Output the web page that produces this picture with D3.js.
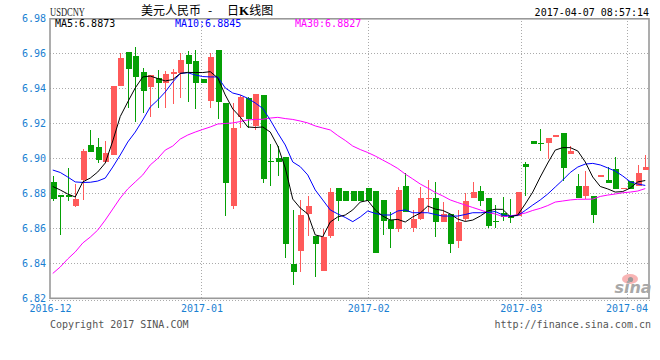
<!DOCTYPE html>
<html>
<head>
<meta charset="utf-8">
<script src="https://cdn.jsdelivr.net/npm/d3@7/dist/d3.min.js"></script>
<style>
  body { margin: 0; background: #fff; }
  text { font-family: "DejaVu Sans Mono", "Liberation Mono", monospace; font-size: 10px; }
</style>
</head>
<body>
<div id="chart"></div>
<script>
// daily candles, 2016-12 .. 2017-04-07
const opens = [6.8865, 6.8790, 6.8790, 6.8729, 6.8876, 6.9076, 6.9066, 6.8981, 6.9019, 6.9415,
  6.9606, 6.9585, 6.9491, 6.9409, 6.9461, 6.9432, 6.9480, 6.9489, 6.9590, 6.9556,
  6.9451, 6.9327, 6.9619, 6.9318, 6.8729, 6.9238, 6.9343, 6.9185, 6.9362, 6.8986,
  6.9000, 6.9009, 6.8396, 6.8470, 6.8682, 6.8556, 6.8356, 6.8558, 6.8829, 6.8813,
  6.8813, 6.8813, 6.8829, 6.8813, 6.8762, 6.8647, 6.8596, 6.8843, 6.8603, 6.8653,
  6.8770, 6.8775, 6.8638, 6.8682, 6.8529, 6.8653, 6.8775, 6.8813, 6.8775, 6.8643,
  6.8686, 6.8670, 6.8670, 6.8967, 6.9099, 6.9089, 6.9089, 6.9123, 6.9146, 6.9025,
  6.8842, 6.8785, 6.8785, 6.8896, 6.8876, 6.8937, 6.8827, 6.8870, 6.8842, 6.8933];
const highs = [6.8899, 6.8790, 6.8945, 6.8853, 6.9053, 6.9162, 6.9116, 6.9099, 6.9413, 6.9602,
  6.9606, 6.9638, 6.9516, 6.9476, 6.9505, 6.9501, 6.9510, 6.9600, 6.9615, 6.9619,
  6.9451, 6.9603, 6.9619, 6.9318, 6.9318, 6.9362, 6.9352, 6.9367, 6.9362, 6.9082,
  6.9070, 6.9009, 6.8705, 6.8762, 6.8785, 6.8556, 6.8594, 6.8832, 6.8829, 6.8813,
  6.8813, 6.8813, 6.8829, 6.8813, 6.8762, 6.8695, 6.8838, 6.8914, 6.8705, 6.8838,
  6.8876, 6.8866, 6.8752, 6.8682, 6.8705, 6.8800, 6.8863, 6.8842, 6.8775, 6.8733,
  6.8777, 6.8766, 6.8809, 6.8977, 6.9099, 6.9167, 6.9114, 6.9133, 6.9146, 6.9070,
  6.8910, 6.8927, 6.8785, 6.8902, 6.8949, 6.9006, 6.8830, 6.8870, 6.8962, 6.9019];
const lows = [6.8756, 6.8562, 6.8758, 6.8723, 6.8762, 6.9038, 6.8973, 6.8981, 6.9019, 6.9415,
  6.9287, 6.9209, 6.9261, 6.9236, 6.9287, 6.9287, 6.9310, 6.9343, 6.9323, 6.9280,
  6.9429, 6.9289, 6.9225, 6.8670, 6.8710, 6.9171, 6.9173, 6.9162, 6.8861, 6.8843,
  6.8899, 6.8432, 6.8276, 6.8352, 6.8556, 6.8323, 6.8356, 6.8546, 6.8642, 6.8758,
  6.8758, 6.8758, 6.8758, 6.8457, 6.8562, 6.8489, 6.8581, 6.8695, 6.8581, 6.8647,
  6.8695, 6.8552, 6.8638, 6.8461, 6.8489, 6.8642, 6.8775, 6.8729, 6.8603, 6.8600,
  6.8642, 6.8632, 6.8670, 6.8785, 6.9080, 6.9043, 6.8994, 6.9123, 6.8872, 6.9025,
  6.8775, 6.8766, 6.8632, 6.8896, 6.8861, 6.8825, 6.8827, 6.8825, 6.8842, 6.8933];
const closes = [6.8768, 6.8781, 6.8777, 6.8767, 6.9042, 6.9038, 6.8990, 6.9030, 6.9413, 6.9575,
  6.9509, 6.9466, 6.9386, 6.9476, 6.9429, 6.9482, 6.9495, 6.9562, 6.9537, 6.9429,
  6.9429, 6.9581, 6.9320, 6.8861, 6.9175, 6.9352, 6.9225, 6.9367, 6.8882, 6.8983,
  6.8981, 6.8510, 6.8352, 6.8676, 6.8727, 6.8509, 6.8552, 6.8809, 6.8758, 6.8758,
  6.8758, 6.8758, 6.8758, 6.8457, 6.8643, 6.8594, 6.8819, 6.8695, 6.8653, 6.8775,
  6.8773, 6.8638, 6.8682, 6.8509, 6.8638, 6.8756, 6.8809, 6.8756, 6.8613, 6.8640,
  6.8666, 6.8657, 6.8809, 6.8949, 6.9080, 6.9080, 6.9114, 6.9133, 6.8946, 6.9043,
  6.8775, 6.8842, 6.8676, 6.8902, 6.8861, 6.8825, 6.8830, 6.8825, 6.8918, 6.8952];

// moving averages as drawn
const ma5 = [6.8839, 6.8819, 6.8796, 6.8779, 6.8865, 6.8887, 6.8922, 6.8973, 6.9099, 6.9239,
  6.9322, 6.9402, 6.9465, 6.9470, 6.9456, 6.9442, 6.9450, 6.9485, 6.9491, 6.9490,
  6.9490, 6.9495, 6.9459, 6.9362, 6.9282, 6.9236, 6.9179, 6.9176, 6.9179, 6.9150,
  6.9070, 6.8945, 6.8767, 6.8716, 6.8682, 6.8562, 6.8552, 6.8636, 6.8665, 6.8676,
  6.8705, 6.8750, 6.8759, 6.8705, 6.8670, 6.8647, 6.8651, 6.8636, 6.8665, 6.8687,
  6.8727, 6.8710, 6.8702, 6.8682, 6.8653, 6.8639, 6.8647, 6.8670, 6.8699, 6.8709,
  6.8708, 6.8666, 6.8676, 6.8739, 6.8807, 6.8893, 6.8973, 6.9047, 6.9061, 6.9061,
  6.9042, 6.8979, 6.8893, 6.8839, 6.8825, 6.8807, 6.8810, 6.8830, 6.8865, 6.8873];
const ma10 = [6.8933, 6.8919, 6.8893, 6.8865, 6.8862, 6.8863, 6.8870, 6.8887, 6.8950, 6.9019,
  6.9093, 6.9150, 6.9219, 6.9293, 6.9333, 6.9379, 6.9436, 6.9485, 6.9489, 6.9476,
  6.9467, 6.9465, 6.9465, 6.9402, 6.9373, 6.9362, 6.9343, 6.9316, 6.9285, 6.9219,
  6.9145, 6.9076, 6.8979, 6.8952, 6.8905, 6.8819, 6.8762, 6.8705, 6.8682, 6.8662,
  6.8638, 6.8665, 6.8699, 6.8685, 6.8676, 6.8676, 6.8699, 6.8705, 6.8689, 6.8689,
  6.8689, 6.8679, 6.8670, 6.8670, 6.8670, 6.8679, 6.8689, 6.8689, 6.8690, 6.8696,
  6.8676, 6.8670, 6.8673, 6.8702, 6.8733, 6.8762, 6.8796, 6.8836, 6.8876, 6.8919,
  6.8950, 6.8967, 6.8971, 6.8962, 6.8945, 6.8927, 6.8899, 6.8866, 6.8853, 6.8845];
const ma30 = [6.8342, 6.8379, 6.8425, 6.8465, 6.8516, 6.8550, 6.8590, 6.8647, 6.8710, 6.8773,
  6.8825, 6.8865, 6.8905, 6.8962, 6.8999, 6.9047, 6.9070, 6.9110, 6.9133, 6.9150,
  6.9165, 6.9179, 6.9196, 6.9199, 6.9202, 6.9210, 6.9219, 6.9222, 6.9223, 6.9230,
  6.9234, 6.9227, 6.9222, 6.9213, 6.9202, 6.9185, 6.9173, 6.9162, 6.9130, 6.9102,
  6.9070, 6.9050, 6.9033, 6.9013, 6.8990, 6.8967, 6.8942, 6.8910, 6.8882, 6.8853,
  6.8830, 6.8805, 6.8785, 6.8762, 6.8747, 6.8733, 6.8719, 6.8705, 6.8690, 6.8682,
  6.8667, 6.8670, 6.8679, 6.8687, 6.8702, 6.8714, 6.8730, 6.8750, 6.8756, 6.8762,
  6.8766, 6.8766, 6.8767, 6.8782, 6.8790, 6.8796, 6.8803, 6.8807, 6.8813, 6.8827];

const yTicks = [6.82, 6.84, 6.86, 6.88, 6.90, 6.92, 6.94, 6.96, 6.98];
const monthLabels = ["2016-12", "2017-01", "2017-02", "2017-03", "2017-04"];
const monthAt = [-0.37, 19.83, 42.07, 62.4, 76.5]; // candle index where each month mark sits

const W = 660, H = 360;
const L = 50, R = 649, T = 18.3, B = 298.3;
const RED = "#ff5a5a", GREEN = "#05a005", AXIS = "#1a80d2";

const svg = d3.select("#chart").append("svg").attr("width", W).attr("height", H);
svg.append("rect").attr("width", W).attr("height", H).attr("fill", "#fff");

const n = opens.length;
const x = d3.scaleBand().domain(d3.range(n)).range([L - 1, R]).paddingInner(0.2).paddingOuter(0.1);
const cx = i => x(i) + x.bandwidth() / 2;
const xi = d3.scaleLinear().domain([0, n - 1]).range([cx(0), cx(n - 1)]);
const y = d3.scaleLinear().domain([6.82, 6.98]).range([B, T]);

/** grid */
const grid = svg.append("g").attr("stroke", "#aaa").attr("stroke-dasharray", "1,2").attr("shape-rendering", "crispEdges");
grid.selectAll("line.h").data(yTicks.slice(1, -1)).enter().append("line")
  .attr("x1", L).attr("x2", R).attr("y1", d => Math.round(y(d)) + 0.5).attr("y2", d => Math.round(y(d)) + 0.5);
grid.selectAll("line.v").data(monthAt.slice(1)).enter().append("line")
  .attr("y1", T).attr("y2", B).attr("x1", d => Math.round(xi(d)) + 0.5).attr("x2", d => Math.round(xi(d)) + 0.5);
grid.append("line").attr("x1", L - 1).attr("x2", R + 2).attr("y1", B + 2.2).attr("y2", B + 2.2);

/** frame */
svg.append("rect").attr("x", L).attr("y", T + 0.5).attr("width", R - L).attr("height", B - T - 0.5)
  .attr("fill", "none").attr("stroke", "#999").attr("stroke-width", 1.6);

/** sina watermark */
const logo = svg.append("g");
logo.append("ellipse").attr("cx", 630).attr("cy", 279).attr("rx", 8).attr("ry", 5).attr("fill", "#f8b4b4");
logo.append("circle").attr("cx", 630.5).attr("cy", 279.5).attr("r", 2.6).attr("fill", "#9a9a9a");
logo.append("text").attr("x", 633).attr("y", 293).attr("text-anchor", "middle")
  .attr("font-family", "DejaVu Sans").attr("font-style", "italic").attr("font-weight", "bold")
  .style("font-size", "16px").style("font-family", "DejaVu Sans")
  .attr("fill", "#a8a8a8").text("sina");

/** candles */
const candles = svg.append("g").attr("shape-rendering", "crispEdges").selectAll("g").data(d3.range(n)).enter().append("g")
  .attr("fill", i => closes[i] >= opens[i] ? RED : GREEN)
  .attr("stroke", i => closes[i] >= opens[i] ? RED : GREEN);
candles.append("line")
  .attr("x1", i => Math.round(cx(i)) + 0.5).attr("x2", i => Math.round(cx(i)) + 0.5)
  .attr("y1", i => y(highs[i])).attr("y2", i => y(lows[i]));
candles.append("rect").attr("stroke", "none")
  .attr("x", i => Math.round(cx(i)) - 2).attr("width", 6)
  .attr("y", i => y(Math.max(opens[i], closes[i])))
  .attr("height", i => Math.max(1, Math.abs(y(opens[i]) - y(closes[i]))));

/** moving averages */
const line = d3.line().x((d, i) => cx(i)).y(d => y(d));
[[ma30, "#ff00ff"], [ma10, "#0000ff"], [ma5, "#000"]].forEach(([s, c]) => {
  svg.append("path").datum(s).attr("d", line).attr("fill", "none").attr("stroke", c).attr("stroke-width", 1);
});

/** axes */
const yAxis = svg.append("g").attr("transform", `translate(${L},0)`)
  .call(d3.axisLeft(y).tickValues(yTicks).tickSize(0).tickPadding(4).tickFormat(d3.format(".2f")));
yAxis.select(".domain").remove();
yAxis.selectAll("text").attr("fill", AXIS).style("font-size", "10px").style("font-family", "DejaVu Sans Mono");

const xAxis = svg.append("g").attr("transform", `translate(0,${B})`)
  .call(d3.axisBottom(xi).tickValues(monthAt).tickSize(0).tickPadding(7).tickFormat((d, i) => monthLabels[i]));
xAxis.select(".domain").remove();
xAxis.selectAll("text").attr("fill", AXIS).style("font-size", "10px").style("font-family", "DejaVu Sans Mono");

/** header */
svg.append("text").attr("x", 50).attr("y", 16).attr("textLength", 35).attr("lengthAdjust", "spacingAndGlyphs")
  .style("font-family", "Liberation Serif").style("font-size", "13px").attr("fill", "#222").text("USDCNY");
const title = svg.append("g").attr("fill", "#000");
title.append("text").attr("x", 141).attr("y", 14.5).style("font-family", "Noto Sans CJK SC").style("font-size", "12px").text("美元人民币");
title.append("text").attr("x", 210).attr("y", 14.5).attr("text-anchor", "middle").style("font-family", "Noto Sans CJK SC").style("font-size", "12px").text("-");
const t2 = title.append("text").attr("x", 227).attr("y", 14.5).style("font-family", "Noto Sans CJK SC").style("font-size", "12px");
t2.append("tspan").text("日");
t2.append("tspan").style("font-weight", "bold").style("font-family", "Liberation Serif").style("font-size", "13px").text("K");
t2.append("tspan").text("线图");
svg.append("text").attr("x", 649).attr("y", 15.5).attr("text-anchor", "end").attr("fill", "#000").text("2017-04-07 08:57:14");

const maText = [["MA5:" + ma5[n - 1].toFixed(4), "#000", 55], ["MA10:" + ma10[n - 1].toFixed(4), "#0000ff", 175], ["MA30:" + ma30[n - 1].toFixed(4), "#ff00ff", 295]];
svg.selectAll("text.ma").data(maText).enter().append("text").attr("class", "ma")
  .attr("x", d => d[2]).attr("y", 27).attr("fill", d => d[1]).text(d => d[0]);

/** footer */
svg.append("text").attr("x", 50).attr("y", 328).attr("fill", "#555").text("Copyright 2017 SINA.COM");
svg.append("text").attr("x", 651).attr("y", 328).attr("text-anchor", "end").attr("fill", "#555").text("http://finance.sina.com.cn");
</script>
</body>
</html>
